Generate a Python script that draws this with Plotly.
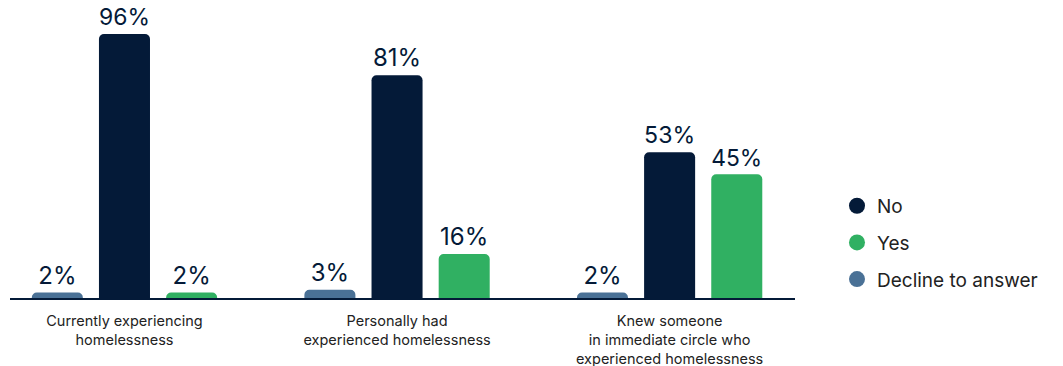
import plotly.graph_objects as go

categories = ["Currently experiencing<br>homelessness",
              "Personally had<br>experienced homelessness",
              "Knew someone<br>in immediate circle who<br>experienced homelessness"]
decline = [2, 3, 2]
no = [96, 81, 53]
yes = [2, 16, 45]

C_NO = "#041a38"
C_YES = "#30b062"
C_DEC = "#4a7196"
FONT = "Inter"

fig = go.Figure()
series = [("Decline to answer", decline, C_DEC, 3),
          ("No", no, C_NO, 1),
          ("Yes", yes, C_YES, 2)]
for name, vals, col, rank in series:
    fig.add_trace(go.Bar(
        x=categories, y=vals, name=name, marker=dict(color=col, line=dict(width=0)),
        text=[f"{v}%" for v in vals], textposition="outside",
        textfont=dict(size=24, color=C_NO, family=FONT),
        cliponaxis=False, showlegend=False, hoverinfo="skip"))
for name, vals, col, rank in series:
    fig.add_trace(go.Scatter(
        x=[None], y=[None], mode="markers", name=name,
        marker=dict(color=col, size=16, symbol="circle"),
        legendrank=rank, legendgroup=name, showlegend=True))

fig.update_layout(
    width=1063, height=366,
    margin=dict(l=10, r=268, t=0, b=68, autoexpand=False),
    paper_bgcolor="white", plot_bgcolor="white",
    barmode="group", bargap=0.261, bargroupgap=0.24,
    barcornerradius=5,
    font=dict(family=FONT, color="#222222"),
    legend=dict(x=1.0535, xanchor="left", y=0.185, yanchor="middle",
                font=dict(size=19, color="#222222", family=FONT),
                tracegroupgap=9, bgcolor="rgba(0,0,0,0)"),
    xaxis=dict(range=[-0.42, 2.46], showgrid=False, showline=True,
               linecolor=C_NO, linewidth=2, ticks="", ticklabelstandoff=9,
               automargin=False,
               tickfont=dict(size=14.5, color="#222222", family=FONT)),
    yaxis=dict(range=[0, 108.36], visible=False, showgrid=False, zeroline=False,
               automargin=False),
)
fig.write_html("out.html")
